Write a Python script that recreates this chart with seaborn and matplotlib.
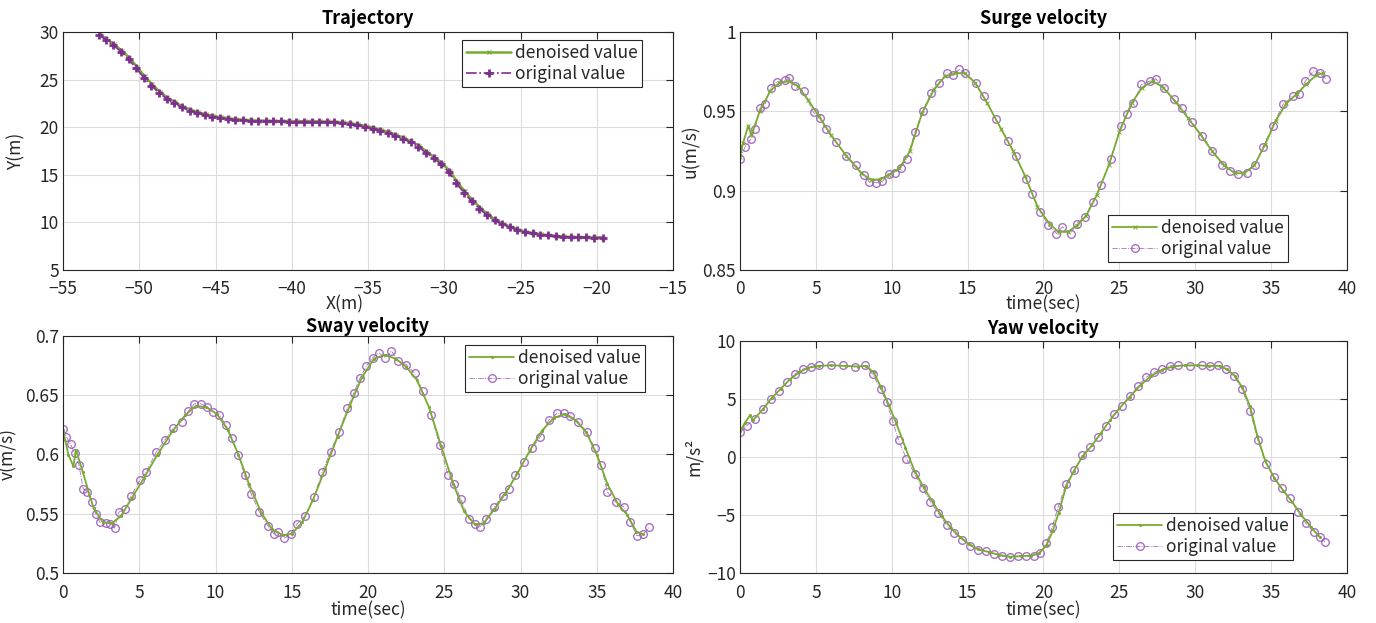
import matplotlib
matplotlib.use("Agg")
import matplotlib.pyplot as plt
import seaborn as sns
from matplotlib.ticker import FuncFormatter, MultipleLocator

# ---------------- data ----------------
# Trajectory
traj_orig_x = [-52.65, -52.2, -51.7, -51.2, -50.7, -50.2, -49.7, -49.2, -48.7, -48.2,
               -47.7, -47.2, -46.7, -46.2, -45.7, -45.2, -44.7, -44.2, -43.7, -43.2,
               -42.7, -42.2, -41.7, -41.2, -40.7, -40.2, -39.7, -39.2, -38.7, -38.2,
               -37.7, -37.2, -36.7, -36.2, -35.7, -35.2, -34.7, -34.2, -33.7, -33.2,
               -32.7, -32.2, -31.7, -31.2, -30.7, -30.2, -29.7, -29.2, -28.7, -28.2,
               -27.7, -27.2, -26.7, -26.2, -25.7, -25.2, -24.7, -24.2, -23.7, -23.2,
               -22.7, -22.2, -21.7, -21.2, -20.7, -20.2, -19.6]
traj_orig_y = [29.69, 29.2, 28.6, 27.95, 27.15, 26.2, 25.2, 24.35, 23.6, 23.0,
               22.5, 22.08, 21.75, 21.5, 21.3, 21.12, 20.98, 20.87, 20.78, 20.71,
               20.67, 20.64, 20.62, 20.6, 20.6, 20.59, 20.58, 20.58, 20.57, 20.56,
               20.54, 20.5, 20.43, 20.33, 20.2, 20.05, 19.85, 19.63, 19.38, 19.1,
               18.78, 18.4, 17.95, 17.3, 16.75, 16.1, 15.3, 14.1, 13.1, 12.2,
               11.45, 10.75, 10.2, 9.8, 9.5, 9.2, 8.98, 8.84, 8.72, 8.63,
               8.55, 8.5, 8.46, 8.44, 8.42, 8.41, 8.4]
traj_den_x = [-52.6, -52.15, -51.65, -51.15, -50.65, -50.15, -49.65, -49.15, -48.65, -48.15,
              -47.65, -47.15, -46.65, -46.15, -45.65, -45.15, -44.65, -44.15, -43.65, -43.15,
              -42.65, -42.15, -41.65, -41.15, -40.65, -40.15, -39.65, -39.15, -38.65, -38.15,
              -37.65, -37.15, -36.65, -36.15, -35.65, -35.15, -34.65, -34.15, -33.65, -33.15,
              -32.65, -32.15, -31.65, -31.15, -30.65, -30.15, -29.65, -29.15, -28.65, -28.15,
              -27.65, -27.15, -26.65, -26.15, -25.65, -25.15, -24.65, -24.15, -23.65, -23.15,
              -22.65, -22.15, -21.65, -21.15, -20.65, -20.15, -19.6]
traj_den_y = [29.75, 29.3, 28.7, 28.05, 27.3, 26.35, 25.35, 24.5, 23.72, 23.1,
              22.6, 22.17, 21.84, 21.58, 21.37, 21.19, 21.05, 20.94, 20.85, 20.78,
              20.73, 20.7, 20.68, 20.66, 20.65, 20.64, 20.63, 20.63, 20.62, 20.61,
              20.6, 20.57, 20.51, 20.41, 20.29, 20.14, 19.95, 19.73, 19.48, 19.2,
              18.88, 18.5, 18.06, 17.42, 16.87, 16.23, 15.45, 14.25, 13.25, 12.33,
              11.56, 10.84, 10.28, 9.86, 9.55, 9.25, 9.02, 8.87, 8.75, 8.66,
              8.58, 8.52, 8.48, 8.45, 8.43, 8.42, 8.41]

# Surge velocity u(m/s)
surge_orig_t = [0, 0.32, 0.72, 0.99, 1.33, 1.65, 2.05, 2.45, 2.99, 3.25, 3.65, 4.19, 4.85,
                5.25, 5.65, 6.32, 6.99, 7.65, 8.19, 8.53, 8.99, 9.39, 9.79, 10.19, 10.59,
                10.99, 11.52, 12.05, 12.59, 13.12, 13.65, 14.05, 14.45, 14.85, 15.52,
                16.05, 16.85, 17.65, 18.19, 18.85, 19.25, 19.79, 20.32, 20.85, 21.25,
                21.79, 22.19, 22.72, 23.25, 23.79, 24.45, 25.12, 25.52, 25.92, 26.45,
                26.99, 27.39, 27.92, 28.59, 29.12, 29.79, 30.45, 31.12, 31.79, 32.32,
                32.85, 33.39, 33.92, 34.45, 35.12, 35.79, 36.45, 36.85, 37.25, 37.79,
                38.19, 38.59]
surge_orig_u = [0.920, 0.9273, 0.9326, 0.939, 0.9524, 0.9545, 0.965, 0.9687, 0.9695, 0.9712,
                0.966, 0.9628, 0.9493, 0.946, 0.9388, 0.9305, 0.922, 0.9159, 0.9096, 0.9054,
                0.905, 0.9058, 0.9106, 0.9113, 0.9142, 0.920, 0.9367, 0.9503, 0.9618, 0.968,
                0.9743, 0.9726, 0.9764, 0.9743, 0.968, 0.9597, 0.9451, 0.9315, 0.9221,
                0.9075, 0.8981, 0.8866, 0.8783, 0.873, 0.8772, 0.873, 0.8793, 0.8835,
                0.8929, 0.9033, 0.920, 0.9409, 0.9482, 0.9555, 0.967, 0.969, 0.9706, 0.9649,
                0.9576, 0.9524, 0.943, 0.9347, 0.9253, 0.9159, 0.9127, 0.9106, 0.9113,
                0.9159, 0.9273, 0.9409, 0.9545, 0.9597, 0.9608, 0.969, 0.9754, 0.9743, 0.9706]
surge_den_t = [0, 0.2, 0.55, 0.75, 1.3, 2.0, 2.6, 3.2, 3.8, 4.5, 5.2, 6.0, 7.0, 8.0, 8.6,
               9.2, 9.8, 10.5, 11.2, 12.0, 12.8, 13.5, 14.2, 14.8, 15.5, 16.3, 17.2, 18.0,
               18.8, 19.6, 20.4, 21.0, 21.6, 22.2, 22.8, 23.5, 24.3, 25.0, 25.8, 26.5, 27.2,
               27.9, 28.7, 29.5, 30.3, 31.1, 31.9, 32.6, 33.2, 33.9, 34.6, 35.3, 36.0, 36.7,
               37.3, 38.0, 38.4]
surge_den_u = [0.921, 0.930, 0.941, 0.935, 0.950, 0.963, 0.968, 0.969, 0.966, 0.957, 0.947,
               0.935, 0.922, 0.911, 0.907, 0.907, 0.910, 0.914, 0.925, 0.949, 0.964, 0.972,
               0.974, 0.974, 0.968, 0.955, 0.939, 0.925, 0.909, 0.890, 0.879, 0.874, 0.874,
               0.878, 0.884, 0.897, 0.916, 0.937, 0.955, 0.965, 0.969, 0.965, 0.956, 0.946,
               0.936, 0.925, 0.916, 0.911, 0.911, 0.916, 0.929, 0.944, 0.955, 0.961, 0.967,
               0.973, 0.974]

# Sway velocity v(m/s)
sway_orig_t = [0, 0.22, 0.5, 0.77, 1.05, 1.32, 1.6, 1.87, 2.15, 2.42, 2.83, 3.11, 3.38, 3.66,
               4.07, 4.48, 5.03, 5.45, 6.13, 6.68, 7.22, 7.79, 8.2, 8.61, 9.02, 9.44, 9.85,
               10.26, 10.67, 11.09, 11.5, 11.91, 12.33, 12.88, 13.42, 13.84, 14.11, 14.52,
               14.93, 15.35, 15.9, 16.45, 17.0, 17.55, 18.1, 18.65, 19.06, 19.48, 19.89,
               20.3, 20.72, 21.13, 21.54, 21.96, 22.5, 23.05, 23.6, 24.15, 24.7, 25.25,
               25.66, 26.08, 26.63, 27.04, 27.32, 27.73, 28.28, 28.83, 29.24, 29.65, 30.2,
               30.75, 31.3, 31.86, 32.41, 32.82, 33.23, 33.78, 34.33, 34.88, 35.29, 35.7,
               36.25, 36.8, 37.21, 37.63, 38.04, 38.45]
sway_orig_v = [0.6215, 0.615, 0.6085, 0.6009, 0.5909, 0.5711, 0.5683, 0.5598, 0.5499, 0.5428,
               0.5422, 0.5414, 0.538, 0.5513, 0.5541, 0.5654, 0.5782, 0.5853, 0.6023, 0.6122,
               0.6221, 0.6278, 0.6363, 0.6428, 0.6428, 0.6405, 0.6357, 0.6334, 0.6249,
               0.6136, 0.5994, 0.5824, 0.5669, 0.5513, 0.540, 0.5329, 0.5348, 0.5295, 0.5329,
               0.5414, 0.5484, 0.564, 0.5853, 0.6023, 0.6193, 0.6391, 0.6518, 0.6646, 0.6745,
               0.6816, 0.6858, 0.6816, 0.6873, 0.6788, 0.6759, 0.6688, 0.6533, 0.6334,
               0.6079, 0.5824, 0.5754, 0.5626, 0.5456, 0.5414, 0.5385, 0.5456, 0.5555,
               0.5654, 0.5711, 0.5824, 0.5938, 0.6051, 0.615, 0.6292, 0.6348, 0.6348, 0.6329,
               0.6278, 0.6193, 0.6051, 0.5909, 0.5683, 0.5598, 0.5555, 0.5428, 0.5314,
               0.5329, 0.5385]
sway_den_t = [0, 0.35, 0.68, 0.85, 1.3, 2.0, 2.6, 3.2, 3.8, 4.5, 5.3, 6.2, 7.2, 8.0, 8.7, 9.4,
              10.1, 10.8, 11.5, 12.2, 13.0, 13.7, 14.4, 15.0, 15.7, 16.4, 17.2, 18.0, 18.8,
              19.6, 20.4, 21.1, 21.8, 22.5, 23.2, 24.0, 24.8, 25.6, 26.3, 27.0, 27.6, 28.3,
              29.0, 29.8, 30.6, 31.4, 32.2, 32.9, 33.6, 34.3, 35.0, 35.7, 36.4, 37.0, 37.6,
              38.0]
sway_den_v = [0.621, 0.600, 0.590, 0.604, 0.585, 0.555, 0.543, 0.542, 0.548, 0.563, 0.580,
              0.600, 0.620, 0.633, 0.641, 0.640, 0.634, 0.621, 0.600, 0.575, 0.551, 0.537,
              0.532, 0.533, 0.543, 0.562, 0.588, 0.615, 0.641, 0.665, 0.681, 0.684, 0.681,
              0.674, 0.663, 0.640, 0.607, 0.575, 0.552, 0.541, 0.542, 0.554, 0.567, 0.584,
              0.603, 0.620, 0.631, 0.634, 0.629, 0.619, 0.600, 0.575, 0.558, 0.549, 0.535,
              0.533]

# Yaw velocity
yaw_orig_t = [0, 0.45, 0.97, 1.5, 2.03, 2.55, 3.08, 3.61, 4.13, 4.66, 5.18, 5.97, 6.76, 7.55,
              8.21, 8.74, 9.26, 9.66, 10.05, 10.45, 10.97, 11.5, 12.03, 12.55, 13.08, 13.61,
              14.13, 14.66, 15.18, 15.71, 16.24, 16.76, 17.29, 17.82, 18.34, 18.87, 19.39,
              19.79, 20.18, 20.58, 20.97, 21.5, 22.03, 22.55, 23.08, 23.61, 24.13, 24.66,
              25.18, 25.71, 26.24, 26.76, 27.29, 27.82, 28.34, 28.87, 29.66, 30.45, 30.97,
              31.5, 32.03, 32.55, 33.08, 33.61, 34.13, 34.66, 35.18, 35.71, 36.24, 36.76,
              37.29, 37.82, 38.21, 38.55]
yaw_orig_r = [2.14, 2.71, 3.29, 4.14, 5.0, 5.71, 6.43, 7.14, 7.57, 7.8, 7.91, 7.91, 7.89, 7.77,
              7.91, 7.14, 5.86, 4.71, 3.14, 1.43, -0.14, -1.43, -2.71, -3.86, -4.86, -5.86,
              -6.57, -7.14, -7.66, -8.0, -8.14, -8.34, -8.57, -8.63, -8.51, -8.57, -8.51,
              -8.29, -7.43, -6.0, -4.29, -2.29, -1.14, 0.14, 0.86, 1.71, 2.71, 3.71, 4.43,
              5.29, 6.14, 6.86, 7.29, 7.57, 7.86, 7.91, 7.86, 7.91, 7.83, 7.91, 7.57, 7.0,
              5.86, 4.0, 1.43, -0.57, -1.71, -2.71, -3.57, -4.71, -5.71, -6.43, -6.86, -7.34]
yaw_den_t = [0, 0.3, 0.66, 0.85, 1.5, 2.1, 2.7, 3.3, 3.9, 4.5, 5.2, 6.0, 7.0, 7.8, 8.3, 8.8,
             9.3, 9.8, 10.3, 10.9, 11.5, 12.1, 12.7, 13.3, 13.9, 14.5, 15.1, 15.7, 16.4, 17.1,
             17.8, 18.5, 19.2, 19.7, 20.2, 20.6, 21.0, 21.5, 22.0, 22.6, 23.2, 23.8, 24.4,
             25.0, 25.7, 26.4, 27.1, 27.8, 28.5, 29.3, 30.1, 30.9, 31.6, 32.1, 32.6, 33.1,
             33.6, 34.1, 34.6, 35.2, 35.8, 36.4, 37.0, 37.6, 38.2]
yaw_den_r = [2.2, 2.9, 3.6, 3.15, 4.1, 5.1, 5.9, 6.7, 7.3, 7.7, 7.85, 7.9, 7.85, 7.8, 7.85,
             7.3, 6.0, 4.5, 2.9, 0.8, -1.2, -2.6, -3.9, -5.1, -6.1, -6.9, -7.5, -7.95, -8.2,
             -8.45, -8.6, -8.55, -8.5, -8.3, -7.6, -6.4, -4.8, -2.5, -1.2, 0.1, 1.0, 2.1, 3.2,
             4.2, 5.2, 6.2, 7.0, 7.5, 7.8, 7.9, 7.9, 7.85, 7.85, 7.55, 7.0, 6.0, 4.4, 1.8,
             -0.3, -1.8, -2.9, -3.9, -5.0, -6.0, -6.9]

titles = ["Trajectory", "Surge velocity", "Sway velocity", "Yaw velocity"]
xlabels = ["X(m)", "time(sec)", "time(sec)", "time(sec)"]
ylabels = ["Y(m)", "u(m/s)", "v(m/s)", "m/s\u00b2"]
legend_labels = ["denoised value", "original value"]

# ---------------- style ----------------
sns.set_theme(style="white")
plt.rcParams["font.family"] = ["Noto Sans CJK SC", "DejaVu Sans"]
plt.rcParams["axes.unicode_minus"] = True

GREEN = "#77AC30"
PURPLE_DARK = "#7E2F8E"
PURPLE = "#9A58B8"
AXC = "#262626"

W, H = 1376, 623
fig = plt.figure(figsize=(W / 100, H / 100), dpi=100)


def frac(l, t, r, b):
    return [l / W, 1 - b / H, (r - l) / W, (b - t) / H]


axes = [
    fig.add_axes(frac(63, 32, 673, 270)),
    fig.add_axes(frac(740, 32, 1347, 270)),
    fig.add_axes(frac(63, 336, 673, 573)),
    fig.add_axes(frac(740, 341, 1347, 573)),
]


def fmt(v, pos):
    s = "%g" % v
    return s.replace("-", "\u2212")


def style_axes(ax, xlim, ylim, xstep, ystep, xpad):
    ax.set_xlim(*xlim)
    ax.set_ylim(*ylim)
    ax.xaxis.set_major_locator(MultipleLocator(xstep))
    ax.yaxis.set_major_locator(MultipleLocator(ystep))
    ax.xaxis.set_major_formatter(FuncFormatter(fmt))
    ax.yaxis.set_major_formatter(FuncFormatter(fmt))
    ax.grid(True, color="#dcdcdc", linewidth=0.8)
    ax.set_axisbelow(True)
    ax.tick_params(direction="in", top=True, right=True, length=5, width=0.8,
                   color=AXC, labelsize=12.5, labelcolor="#262626", pad=3)
    ax.tick_params(axis="x", pad=xpad)
    for sp in ax.spines.values():
        sp.set_color(AXC)
        sp.set_linewidth(0.8)
        sp.set_visible(True)


# Trajectory
ax = axes[0]
sns.lineplot(x=traj_orig_x, y=traj_orig_y, ax=ax, sort=False, estimator=None,
             color=PURPLE_DARK, linestyle="-.", linewidth=1.2, marker="+",
             markersize=5.5, markeredgewidth=2.0, markeredgecolor=PURPLE_DARK)
sns.lineplot(x=traj_den_x, y=traj_den_y, ax=ax, sort=False, estimator=None,
             color=GREEN, linestyle="-", linewidth=1.8, marker="x",
             markersize=3, markeredgewidth=0.8, markeredgecolor=GREEN, zorder=1)

# Surge / sway / yaw
series = [
    (surge_orig_t, surge_orig_u, surge_den_t, surge_den_u, "x"),
    (sway_orig_t, sway_orig_v, sway_den_t, sway_den_v, "."),
    (yaw_orig_t, yaw_orig_r, yaw_den_t, yaw_den_r, "."),
]
for ax, (ot, ov, dt, dv, dm) in zip(axes[1:], series):
    sns.lineplot(x=ot, y=ov, ax=ax, sort=False, estimator=None,
                 color=PURPLE, linestyle="-.", linewidth=0.6, alpha=0.85,
                 marker="o", markersize=5.5, markerfacecolor="none",
                 markeredgecolor=PURPLE, markeredgewidth=1.0)
    sns.lineplot(x=dt, y=dv, ax=ax, sort=False, estimator=None,
                 color=GREEN, linestyle="-", linewidth=1.3, marker=dm,
                 markersize=3, markeredgewidth=0.7, markeredgecolor=GREEN,
                 markerfacecolor=GREEN)

style_axes(axes[0], (-55, -15), (5, 30), 5, 5, 7)
style_axes(axes[1], (0, 40), (0.85, 1.0), 5, 0.05, 7)
style_axes(axes[2], (0, 40), (0.5, 0.7), 5, 0.05, 8)
style_axes(axes[3], (0, 40), (-10, 10), 5, 5, 8)

xlab_pos = [((345 - 63) / 610, -0.108), (0.5, -0.108), (0.5, -0.12), (0.5, -0.124)]
ylab_pos = [(-0.062, 0.5), (-0.066, 0.5), (-0.075, 0.5), (-0.061, 0.5)]
leg_pos = [(0.654, 0.966), (0.606, 0.231), (0.659, 0.962), (0.614, 0.259)]
title_pads = [6, 6, 3, 5]

for i, ax in enumerate(axes):
    ax.set_title(titles[i], fontsize=13, fontweight="bold", color="black", pad=title_pads[i])
    ax.set_xlabel(xlabels[i], fontsize=12.5, color="#262626")
    ax.set_ylabel(ylabels[i], fontsize=12.5, color="#262626")
    ax.xaxis.set_label_coords(*xlab_pos[i])
    ax.yaxis.set_label_coords(*ylab_pos[i])
    lines = ax.get_lines()
    orig_line, den_line = lines[0], lines[1]
    leg = ax.legend([den_line, orig_line], legend_labels, loc="upper left",
                    bbox_to_anchor=leg_pos[i], fontsize=12.5, frameon=True,
                    fancybox=False, framealpha=1, edgecolor=AXC, borderpad=0.25,
                    handlelength=2.6, handletextpad=0.2, labelspacing=0.15,
                    borderaxespad=0)
    leg.get_frame().set_linewidth(0.8)

fig.savefig("out.png", dpi=100, facecolor="white")
